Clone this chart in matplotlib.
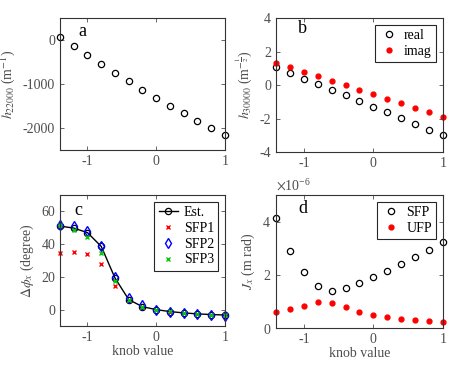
import matplotlib
matplotlib.use("Agg")
import matplotlib.pyplot as plt
from matplotlib.ticker import ScalarFormatter

plt.rcParams['font.family'] = ['Liberation Serif', 'DejaVu Serif']
plt.rcParams['mathtext.fontset'] = 'stix'
plt.rcParams['axes.unicode_minus'] = False
plt.rcParams['font.size'] = 10

knob = [-1.4, -1.2, -1.0, -0.8, -0.6, -0.4, -0.2, 0.0, 0.2, 0.4, 0.6, 0.8, 1.0]

h22000 = [76, -137, -342, -548, -753, -943, -1133, -1316, -1490, -1665, -1833, -2000, -2160]

h30000_real = [1.06, 0.74, 0.38, 0.04, -0.30, -0.62, -0.96, -1.30, -1.64, -1.98, -2.30, -2.66, -2.98]
h30000_imag = [1.34, 1.08, 0.80, 0.52, 0.26, -0.02, -0.28, -0.56, -0.84, -1.10, -1.36, -1.64, -1.90]

dphi_est = [51.0, 49.8, 47.0, 38.6, 19.3, 6.1, 1.8, 0.0, -1.2, -2.0, -2.6, -3.0, -3.3]
dphi_sfp1 = [34.8, 35.4, 34.0, 27.9, 14.2, 6.0, 1.6, 0.0, -1.2, -2.0, -2.6, -3.0, -3.2]
dphi_sfp2 = [51.9, 51.0, 47.8, 38.8, 20.1, 7.3, 2.6, 0.0, -1.2, -2.0, -2.8, -3.3, -3.7]
dphi_sfp3 = [51.5, 48.8, 44.3, 34.8, 17.7, 6.1, 1.8, 0.0, -1.0, -2.0, -2.6, -3.3, -3.5]

jx_sfp = [4.15, 2.90, 2.09, 1.59, 1.39, 1.50, 1.70, 1.93, 2.16, 2.41, 2.67, 2.94, 3.23]
jx_ufp = [0.61, 0.72, 0.84, 0.96, 0.94, 0.78, 0.62, 0.50, 0.41, 0.34, 0.29, 0.25, 0.21]
jx_sfp = [v * 1e-6 for v in jx_sfp]
jx_ufp = [v * 1e-6 for v in jx_ufp]

grey = '0.3'
fig = plt.figure(figsize=(4.6, 3.68), dpi=100)
W, H = 460.0, 368.0
def box(l, t, r, b):
    return [l / W, 1 - b / H, (r - l) / W, (b - t) / H]

ax_a = fig.add_axes(box(60, 18, 225, 150))
ax_b = fig.add_axes(box(276, 18, 443, 152))
ax_c = fig.add_axes(box(60, 195, 225, 326))
ax_d = fig.add_axes(box(276, 195, 443, 328))

def style(ax):
    ax.tick_params(direction='in', top=True, right=True, colors=grey, labelcolor=grey,
                   length=3, width=0.6, labelsize=10)
    for s in ax.spines.values():
        s.set_color('0.2')
        s.set_linewidth(0.8)
    ax.set_xlim(-1.4, 1)
    ax.set_xticks([-1, 0, 1])

def leg(ax, **kw):
    lg = ax.legend(loc='upper right', fancybox=False, edgecolor='0.15', framealpha=1,
                   handlelength=1.4, handletextpad=0.4, borderpad=0.3, labelspacing=0.2,
                   fontsize=10, borderaxespad=0.5, **kw)
    lg.get_frame().set_linewidth(0.8)
    return lg

ms = 4.5
# a
ax_a.plot(knob, h22000, 'o', mfc='none', mec='k', ms=ms, mew=0.9, clip_on=False)
ax_a.set_ylim(-2500, 500)
ax_a.set_yticks([-2000, -1000, 0])
ax_a.set_ylabel(r'$h_{22000}$ (m$^{-1}$)', color=grey)
ax_a.text(0.136, 0.894, 'a', transform=ax_a.transAxes, fontsize=13, ha='center', va='center')
style(ax_a)

# b
ax_b.plot(knob, h30000_real, 'o', mfc='none', mec='k', ms=ms, mew=0.9, label='real', clip_on=False)
ax_b.plot(knob, h30000_imag, 'o', color='red', ms=3.5, label='imag', clip_on=False)
ax_b.set_ylim(-4, 4)
ax_b.set_yticks([-4, -2, 0, 2, 4])
ax_b.set_ylabel(r'$h_{30000}$ (m$^{-\frac{1}{2}}$)', color=grey)
ax_b.text(0.159, 0.92, 'b', transform=ax_b.transAxes, fontsize=13, ha='center', va='center')
leg(ax_b)
style(ax_b)

# c
ax_c.plot(knob, dphi_est, '-o', color='k', mfc='none', ms=ms, mew=0.9, lw=1.0, label='Est.', clip_on=False)
ax_c.plot(knob, dphi_sfp1, 'x', color='red', ms=3.5, mew=1.0, label='SFP1', clip_on=False)
ax_c.plot(knob, dphi_sfp2, 'd', color='blue', mfc='none', ms=5, mew=1.0, label='SFP2', clip_on=False)
ax_c.plot(knob, dphi_sfp3, 'x', color='#00cc00', ms=3.5, mew=1.0, label='SFP3', clip_on=False)
ax_c.set_ylim(-10, 70)
ax_c.set_yticks([0, 20, 40, 60])
ax_c.set_ylabel(r'$\Delta\phi_x$ (degree)', color=grey)
ax_c.set_xlabel('knob value', color=grey, labelpad=1)
ax_c.text(0.11, 0.885, 'c', transform=ax_c.transAxes, fontsize=13, ha='center', va='center')
leg(ax_c)
style(ax_c)

# d
ax_d.plot(knob, jx_sfp, 'o', mfc='none', mec='k', ms=ms, mew=0.9, label='SFP', clip_on=False)
ax_d.plot(knob, jx_ufp, 'o', color='red', ms=3.5, label='UFP', clip_on=False)
ax_d.set_ylim(0, 5e-6)
ax_d.set_yticks([0, 2e-6, 4e-6])
fmt = ScalarFormatter(useMathText=True)
fmt.set_powerlimits((0, 0))
ax_d.yaxis.set_major_formatter(fmt)
ax_d.set_ylabel(r'$J_x$ (m rad)', color=grey)
ax_d.set_xlabel('knob value', color=grey, labelpad=1)
ax_d.text(0.16, 0.90, 'd', transform=ax_d.transAxes, fontsize=13, ha='center', va='center')
leg(ax_d)
style(ax_d)
ax_d.yaxis.get_offset_text().set_color(grey)
ax_d.yaxis.get_offset_text().set_fontsize(10)

fig.savefig('out.png', dpi=100)
